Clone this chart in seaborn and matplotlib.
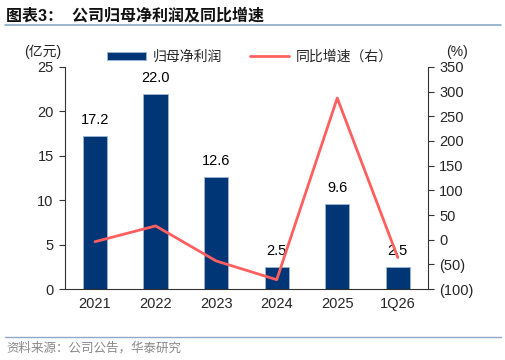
"""Net profit attributable to parent and YoY growth"""

import matplotlib.pyplot as plt
import matplotlib.ticker as mticker
import pandas as pd
import seaborn as sns

periods = ['2021', '2022', '2023', '2024', '2025', '1Q26']
net_profit = [17.2, 22.0, 12.6, 2.5, 9.6, 2.5]
yoy_growth = [-4, 28, -43, -81, 287, -36]

BAR_COLOR = '#003576'
LINE_COLOR = '#FF5F5F'

sns.set_theme(style='white')
plt.rcParams['font.family'] = ['Liberation Sans', 'Noto Sans CJK SC', 'DejaVu Sans']
plt.rcParams['axes.unicode_minus'] = False

df = pd.DataFrame({'period': periods, 'profit': net_profit, 'growth': yoy_growth})

fig = plt.figure(figsize=(5.06, 3.6), dpi=100)
ax = fig.add_axes([0.128, 0.197, 0.718, 0.617])

sns.barplot(data=df, x='period', y='profit', color=BAR_COLOR, width=0.4,
            edgecolor='#9DB7D5', linewidth=0.6, saturation=1, ax=ax,
            label='归母净利润')
for i, v in enumerate(net_profit):
    ax.text(i, v + 1.0, f'{v:.1f}', ha='center', va='bottom', fontsize=10.5, color='black')

ax.set_ylim(0, 25)
ax.set_yticks(range(0, 26, 5))
ax.set_xlim(-0.5, len(periods) - 0.5)
ax.set_xlabel('')
ax.set_ylabel('')

ax2 = ax.twinx()
sns.lineplot(x=list(range(len(periods))), y=yoy_growth, color=LINE_COLOR, linewidth=2,
             ax=ax2, label='同比增速（右）', legend=False)
ax2.set_ylim(-100, 350)
ax2.set_yticks(range(-100, 351, 50))
ax2.yaxis.set_major_formatter(mticker.FuncFormatter(
    lambda v, _: f'({abs(int(v))})' if v < 0 else f'{int(v)}'))

# x ticks sit between the categories
ax.set_xticks(range(len(periods)))
ax.set_xticklabels(periods)
ax.tick_params(axis='x', length=0, labelsize=10.5, pad=6)
ax.set_xticks([i + 0.5 for i in range(-1, len(periods))], minor=True)
ax.tick_params(axis='x', which='minor', length=4, width=0.8, color='#333333', direction='out')

for a in (ax, ax2):
    for s in ('top',):
        a.spines[s].set_visible(False)
    for s in ('left', 'right', 'bottom'):
        a.spines[s].set_color('#333333')
        a.spines[s].set_linewidth(0.8)
ax.spines['right'].set_visible(False)
ax2.spines['left'].set_visible(False)
ax2.spines['bottom'].set_visible(False)

ax.tick_params(axis='y', left=True, length=4, width=0.8, color='#333333', labelsize=10.5, pad=4)
ax2.tick_params(axis='y', right=True, length=4, width=0.8, color='#333333', labelsize=10.5, pad=4)

ax.text(-0.06, 1.035, '(亿元)', transform=ax.transAxes, ha='center', va='bottom', fontsize=10)
ax2.text(1.08, 1.035, '(%)', transform=ax2.transAxes, ha='center', va='bottom', fontsize=10)

h1, l1 = ax.get_legend_handles_labels()
h2, l2 = ax2.get_legend_handles_labels()
ax.legend(h1 + h2, l1 + l2, loc='lower left', bbox_to_anchor=(0.1, 0.99), ncol=2,
          frameon=False, fontsize=10, handlelength=2.8, handleheight=0.5,
          columnspacing=2.0, handletextpad=0.5, borderaxespad=0)

fig.text(0.012, 0.957, '图表3：  公司归母净利润及同比增速', fontsize=11.5, fontweight='bold',
         ha='left', va='center', color='#111111')
fig.add_artist(plt.Line2D([0.01, 0.99], [0.93, 0.93], color='#8EA9C8', linewidth=1.2))
fig.add_artist(plt.Line2D([0.01, 0.99], [0.063, 0.063], color='#8EA9C8', linewidth=1.0))
fig.text(0.012, 0.032, '资料来源：公司公告，华泰研究', fontsize=9, ha='left', va='center',
         color='#888888')

fig.savefig('out.png', dpi=100)
